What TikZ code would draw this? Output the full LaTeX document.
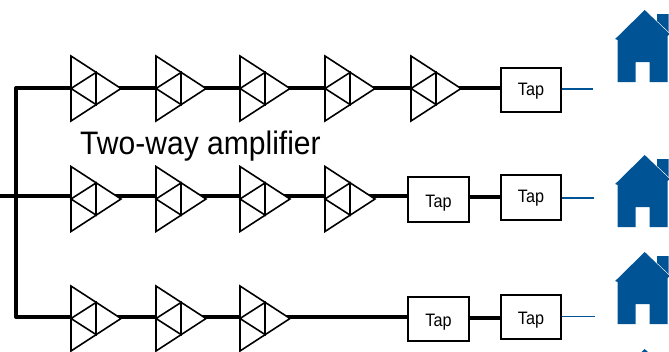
\documentclass[tikz,border=0pt]{standalone}
\usepackage{fontspec}
\setmainfont{Liberation Sans}
\newfontfamily\narrowfont[FakeStretch=0.9]{Liberation Sans}
\newfontfamily\labelfont[FakeStretch=0.925]{Liberation Sans}
\definecolor{houseblue}{RGB}{0,84,150}
\newcommand{\taptext}[1]{\raisebox{#1}[0pt][0pt]{Tap}}
\tikzset{
  trunk/.style={line width=4pt,black,line cap=butt},
  drop/.style={line width=1.7pt,houseblue},
  tapbox/.style={draw=black,line width=1.8pt,fill=white,minimum width=60.5pt,minimum height=44.5pt,inner sep=0pt,font=\narrowfont\fontsize{18}{20}\selectfont},
  amp/.pic={
    \draw[line width=1.6pt,line join=miter,fill=white] (0,-32.5) -- (50,0) -- (0,32.5) -- cycle;
    \draw[line width=1.6pt] (25,-16) -- (0,0) -- (25,16) -- cycle;
    \coordinate (-in) at (0,0);
    \coordinate (-out) at (50,0);
  },
  house/.pic={
    \fill[houseblue,even odd rule] (0,0) -- (-29.5,29) -- (-27,30) -- (-27,72) -- (-9,72) -- (-9,52) -- (5,52) -- (5,72) -- (23,72) -- (23,26) -- (25,24) -- cycle;
    \fill[houseblue] (12.5,4) -- (24,4) -- (24,22) -- (12.5,11) -- cycle;
  }
}
\begin{document}
\begin{tikzpicture}[x=1pt,y=-1pt]
\useasboundingbox (0,0) rectangle (669,351);
\begin{scope}
\clip (0,0) rectangle (669,351);
% free ends
\coordinate (top) at (16,88);
\coordinate (mid) at (16,196);
\coordinate (bot) at (16,317);
\coordinate (west) at (0,196);
\coordinate (e1) at (593,89);
\coordinate (e2) at (594,198);
\coordinate (e3) at (595,316.5);
\coordinate (r1) at (0,88);
\coordinate (r2) at (0,196);
\coordinate (r3) at (0,317);
% trunk lines drawn below the amplifiers
\coordinate (x1) at (71,0);
\coordinate (x4) at (440,0);
\coordinate (x5) at (531,0);
\draw[trunk,line join=round] (x1 |- r1) -- (top) -- (bot) -- (x1 |- r3);
\draw[trunk] (west) -- (x1 |- r2);
\draw[trunk] (x1 |- r1) -- (x5 |- r1);
\draw[trunk] (x1 |- r2) -- (x4 |- r2);
\draw[trunk] (x1 |- r3) -- (x4 |- r3);
\draw[trunk] (x4 |- 0,197) -- (x5 |- 0,197);
\draw[trunk] (x4 |- 0,317.5) -- (x5 |- 0,317.5);
% amplifiers
\path (71,88.5) pic (a1) {amp} (156,88.5) pic (a2) {amp} (240,88.5) pic (a3) {amp} (325,88.5) pic (a4) {amp} (411,88.5) pic (a5) {amp};
\path (71,199) pic (b1) {amp} (156,199) pic (b2) {amp} (240,199) pic (b3) {amp} (325,199) pic (b4) {amp};
\path (71,318.5) pic (c1) {amp} (156,318.5) pic (c2) {amp} (240,318.5) pic (c3) {amp};
% taps
\node[tapbox] (t1) at (531,90) {\taptext{-5.5pt}};
\node[tapbox] (t2b) at (531,197.5) {\taptext{-5pt}};
\node[tapbox] (t2a) at (438.5,199.5) {\taptext{-7.5pt}};
\node[tapbox] (t3b) at (531,317) {\taptext{-7.5pt}};
\node[tapbox] (t3a) at (438.5,319) {\taptext{-7pt}};
\draw[drop] (t1.east |- e1) -- (e1);
\draw[drop] (t2b.east |- e2) -- (e2);
\draw[drop] (t3b.east |- e3) -- (e3);
% houses
\path (644.7,10) pic {house} (644.7,155) pic {house} (644.7,252) pic {house} (644.7,349) pic {house};
\node[anchor=base west,inner sep=0pt,font=\labelfont\fontsize{32.5}{36}\selectfont] (lbl) at (80,154.5) {Two-way amplifier};
\end{scope}
\end{tikzpicture}
\end{document}
